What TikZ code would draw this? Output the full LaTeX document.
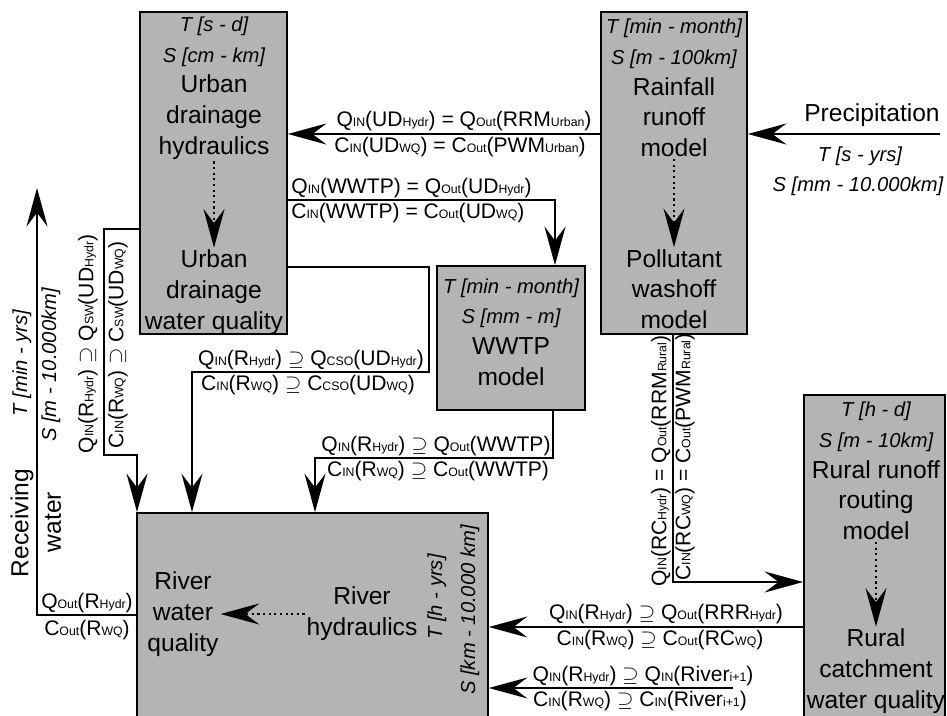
\documentclass[tikz,border=0pt]{standalone}
\usepackage{fontspec}
\setmainfont{Liberation Sans}
\usetikzlibrary{arrows.meta}
\definecolor{boxgray}{RGB}{180,180,180}
\newcommand\subt[1]{{\fontsize{7}{7}\selectfont #1}}
\newcommand\scl[1]{{\itshape\fontsize{11.5}{17.5}\selectfont #1}}
\tikzset{
  box/.style={draw, fill=boxgray, line width=1pt, inner sep=0pt},
  flow/.style={line width=1pt, -{Stealth[length=22pt,width=12pt,inset=8pt]}},
  dotflow/.style={line width=1pt, dash pattern=on 1.2pt off 2pt, -{Stealth[length=22pt,width=12pt,inset=8pt]}},
  boxtext/.style={align=center, font=\fontsize{14}{17.5}\selectfont, inner sep=1pt},
  lbl/.style={font=\fontsize{12}{14}\selectfont, inner sep=0pt}
}
\begin{document}
\begin{tikzpicture}[x=0.02cm,y=-0.02cm]
\useasboundingbox (0,0) rectangle (947,716);
\clip (0,0) rectangle (947,716);

% The model boxes
\node[box, minimum width=2.94cm, minimum height=6.44cm] (ud) at (213.5,173) {};
\node[box, minimum width=2.92cm, minimum height=6.44cm] (rrm) at (674,173) {};
\node[box, minimum width=2.96cm, minimum height=2.88cm] (wwtp) at (511,338) {};
\node[box, minimum width=7.02cm, minimum height=4.40cm] (river) at (312.5,623) {};
\node[box, minimum width=2.82cm, minimum height=6.80cm] (rural) at (874.5,565) {};

% Texts inside the boxes
\node[boxtext] (udtop) at (214,88) {\scl{T [s - d]}\\\scl{S [cm - km]}\\Urban\\drainage\\hydraulics};
\node[boxtext] (udbot) at (214,292) {Urban\\drainage\\water quality};
\node[boxtext] (rrmtop) at (674,88) {\scl{T [min - month]}\\\scl{S [m - 100km]}\\Rainfall\\runoff\\model};
\node[boxtext] (rrmbot) at (674,289) {Pollutant\\washoff\\model};
\node[boxtext] (wwtptxt) at (511,332) {\scl{T [min - month]}\\\scl{S [mm - m]}\\WWTP\\model};
\node[boxtext] (ruraltop) at (876,471) {\scl{T [h - d]}\\\scl{S [m - 10km]}\\Rural runoff\\routing\\model};
\node[boxtext] (ruralbot) at (876,671) {Rural\\catchment\\water quality};
\node[boxtext] (rwq) at (183,614) {River\\water\\quality};
\node[boxtext] (rhyd) at (362,614) {River\\hydraulics};
\node[boxtext, rotate=90] (rivert) at (437,597) {\scl{T [h - yrs]}};
\node[boxtext, rotate=90] (rivers) at (470,610) {\scl{S [km - 10.000 km]}};

% Dotted links inside the boxes
\draw[dotflow] (udtop.south) -- (udbot.north);
\draw[dotflow] (rrmtop.south) -- (rrmbot.north);
\draw[dotflow] (ruraltop.south) -- (ruralbot.north);
\draw[dotflow] (rhyd.west) -- (rwq.east);

% Bends of the connectors
\coordinate (precip) at (940,134);
\coordinate (ww1) at (555,200);
\coordinate (cso1) at (429,267);
\coordinate (cso2) at (192,372);
\coordinate (sw1) at (104,229);
\coordinate (sw2) at (137,455);
\coordinate (wr1) at (553,458);
\coordinate (wr2) at (315,458);
\coordinate (rr1) at (673,582);
\coordinate (rr2) at (800,627);
\coordinate (up) at (733,688);
\coordinate (rw1) at (37,615);
\coordinate (rw2) at (37,188);

% Precipitation
\draw[flow] (precip) -- (rrm.east |- precip);
\node[boxtext] (preclbl) at (872,115) {Precipitation};
\node[lbl] (prect) at (860,156) {\scl{T [s - yrs]}};
\node[lbl] (precs) at (858,186) {\scl{S [mm - 10.000km]}};

% Rainfall runoff to urban drainage
\draw[flow] (rrm.west |- precip) -- (ud.east |- precip);
\node[lbl] (q1) at (464,121) {Q\subt{IN}(UD\subt{Hydr}) = Q\subt{Out}(RRM\subt{Urban})};
\node[lbl] (c1) at (460,147) {C\subt{IN}(UD\subt{WQ}) = C\subt{Out}(PWM\subt{Urban})};

% Urban drainage to WWTP
\draw[flow] (ud.east |- ww1) -- (ww1) -- (ww1 |- wwtp.north);
\node[lbl, anchor=west] (q2) at (291,188) {Q\subt{IN}(WWTP) = Q\subt{Out}(UD\subt{Hydr})};
\node[lbl, anchor=west] (c2) at (291,213) {C\subt{IN}(WWTP) = C\subt{Out}(UD\subt{WQ})};

% Combined sewer overflow to the river
\draw[flow] (ud.east |- cso1) -- (cso1) -- (cso1 |- cso2) -- (cso2) -- (cso2 |- river.north);
\node[lbl] (q3) at (311,360) {Q\subt{IN}(R\subt{Hydr}) $\supseteq$ Q\subt{CSO}(UD\subt{Hydr})};
\node[lbl] (c3) at (308,385) {C\subt{IN}(R\subt{WQ}) $\supseteq$ C\subt{CSO}(UD\subt{WQ})};

% Stormwater to the river
\draw[flow] (ud.west |- sw1) -- (sw1) -- (sw1 |- sw2) -- (sw2) -- (sw2 |- river.north);
\node[lbl, rotate=90] (q8) at (88,344) {Q\subt{IN}(R\subt{Hydr}) $\supseteq$ Q\subt{SW}(UD\subt{Hydr})};
\node[lbl, rotate=90] (c8) at (118,345) {C\subt{IN}(R\subt{WQ}) $\supseteq$ C\subt{SW}(UD\subt{WQ})};

% WWTP effluent to the river
\draw[flow] (wwtp.south -| wr1) -- (wr1) -- (wr2) -- (wr2 |- river.north);
\node[lbl] (q4) at (436,446) {Q\subt{IN}(R\subt{Hydr}) $\supseteq$ Q\subt{Out}(WWTP)};
\node[lbl] (c4) at (438,471) {C\subt{IN}(R\subt{WQ}) $\supseteq$ C\subt{Out}(WWTP)};

% Rainfall runoff to the rural catchment
\draw[flow] (rrm.south -| rr1) -- (rr1) -- (rural.west |- rr1);
\node[lbl, rotate=90] (q5) at (661,461) {Q\subt{IN}(RC\subt{Hydr}) = Q\subt{Out}(RRM\subt{Rural})};
\node[lbl, rotate=90] (c5) at (685,457) {C\subt{IN}(RC\subt{WQ}) = C\subt{Out}(PWM\subt{Rural})};

% Rural catchment to the river
\draw[flow] (rural.west |- rr2) -- (river.east |- rr2);
\node[lbl] (q6) at (666,614) {Q\subt{IN}(R\subt{Hydr}) $\supseteq$ Q\subt{Out}(RRR\subt{Hydr})};
\node[lbl] (c6) at (660,640) {C\subt{IN}(R\subt{WQ}) $\supseteq$ C\subt{Out}(RC\subt{WQ})};

% Upstream river reach
\draw[flow] (up) -- (river.east |- up);
\node[lbl] (q7) at (643,676) {Q\subt{IN}(R\subt{Hydr}) $\supseteq$ Q\subt{IN}(River\subt{i+1})};
\node[lbl] (c7) at (640,701) {C\subt{IN}(R\subt{WQ}) $\supseteq$ C\subt{IN}(River\subt{i+1})};

% Receiving water
\draw[flow] (river.west |- rw1) -- (rw1) -- (rw2);
\node[lbl] (qout) at (87,603) {Q\subt{Out}(R\subt{Hydr})};
\node[lbl] (cout) at (87,630) {C\subt{Out}(R\subt{WQ})};
\node[boxtext, rotate=90] (recv) at (22,523) {Receiving};
\node[boxtext, rotate=90] (recw) at (53,522) {water};
\node[lbl, rotate=90] (recvt) at (22,363) {\scl{T [min - yrs]}};
\node[lbl, rotate=90] (recvs) at (51,365) {\scl{S [m - 10.000km]}};

\end{tikzpicture}
\end{document}
